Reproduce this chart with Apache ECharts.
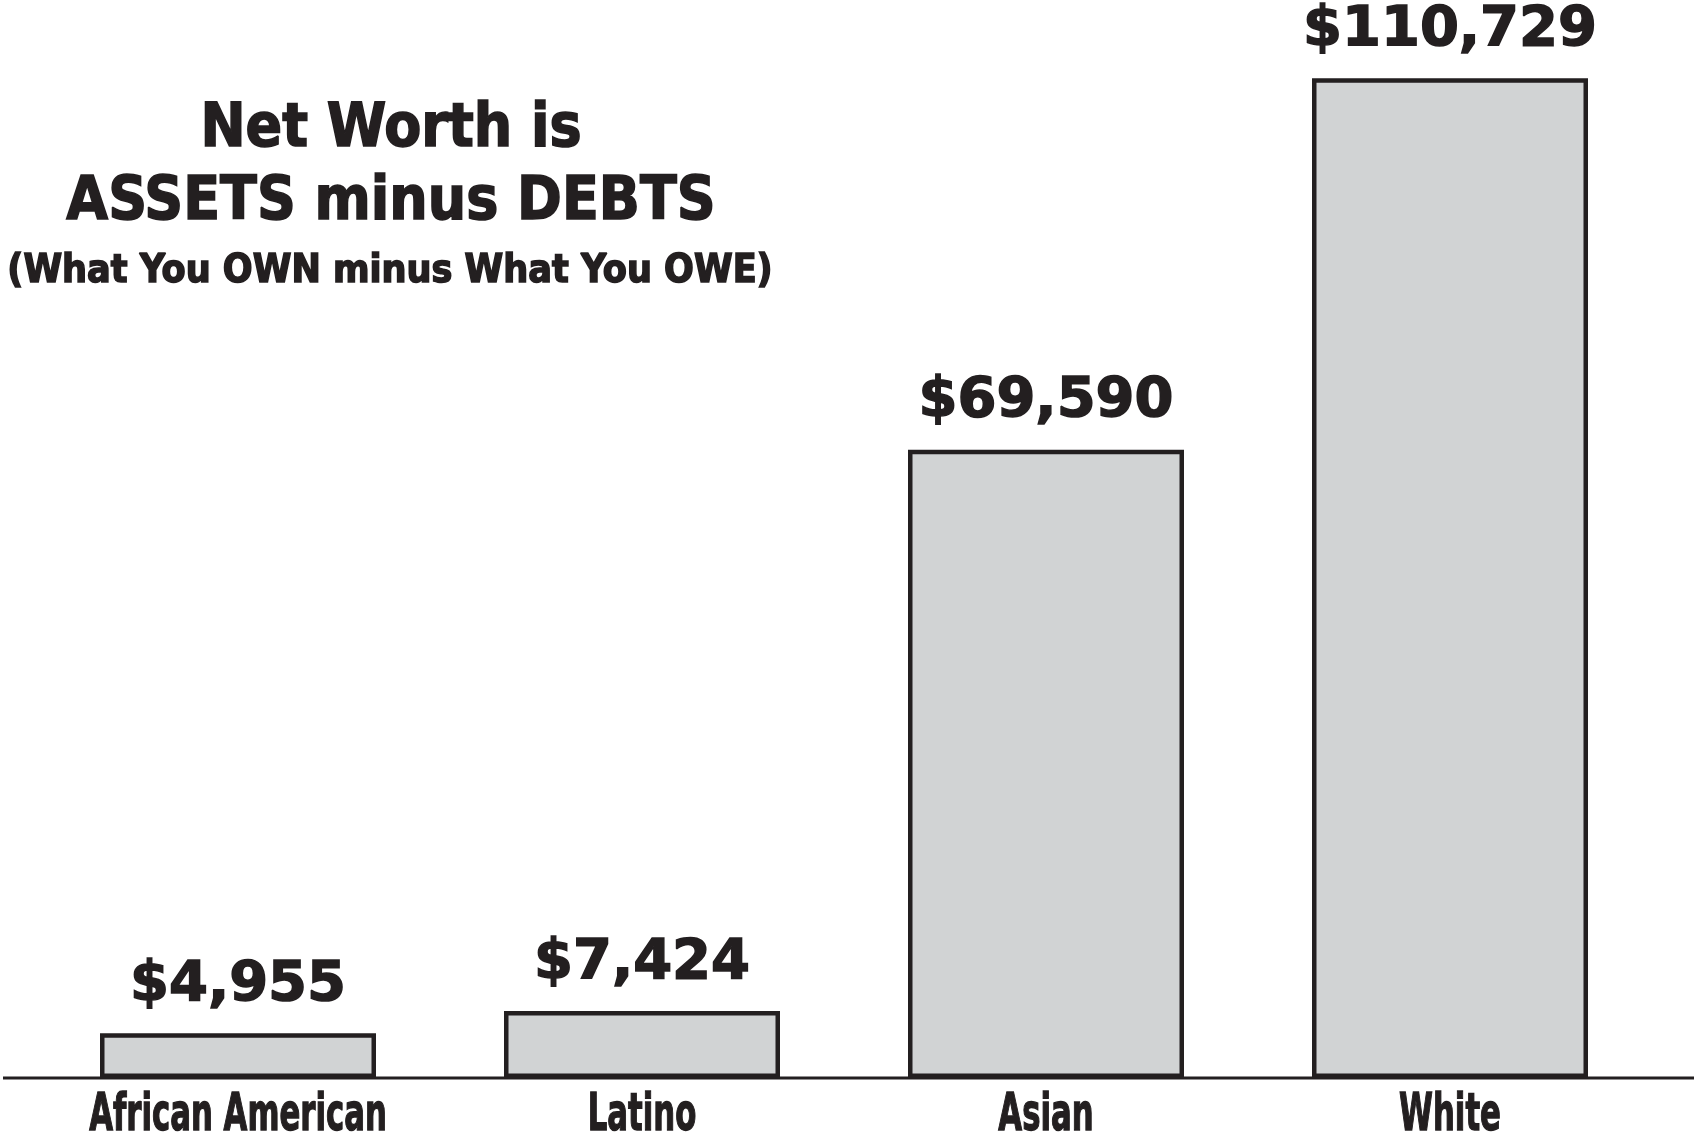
<!DOCTYPE html>
<html>
<head>
<meta charset="utf-8">
<title>Net Worth</title>
<script src="https://cdn.jsdelivr.net/npm/echarts@6/dist/echarts.min.js"></script>
<style>
  html, body { margin: 0; padding: 0; background: #ffffff; }
  #chart { width: 1694px; height: 1138px; }
</style>
</head>
<body>
<div id="chart"></div>
<script>
// Median household net worth by group
const categories = ['African American', 'Latino', 'Asian', 'White'];
const netWorth = [4955, 7424, 69590, 110729];

const INK = '#231f20';
const BAR_FILL = '#d1d3d4';

const chart = echarts.init(document.getElementById('chart'), null, { renderer: 'canvas' });

const fmt = v => '$' + v.toLocaleString('en-US');

const titleStyle = size => ({
  fontFamily: 'DejaVu Sans Condensed',
  fontWeight: 'bold',
  fontSize: size,
  color: INK,
  textBorderColor: INK,
  textBorderWidth: 1.5
});

const option = {
  backgroundColor: '#ffffff',
  animation: false,
  title: [
    { text: 'Net Worth is', left: 386, top: 95, textAlign: 'center', textStyle: titleStyle(60) },
    { text: 'ASSETS minus DEBTS', left: 386, top: 168, textAlign: 'center', textStyle: titleStyle(60) },
    { text: '(What You OWN minus What You OWE)', left: 385, top: 247, textAlign: 'center', textStyle: titleStyle(39) }
  ],
  grid: { left: 36, right: 42, top: -2, bottom: 60, containLabel: false },
  xAxis: {
    type: 'category',
    data: categories,
    axisLine: { show: false },
    axisTick: { show: false },
    axisLabel: { show: false }
  },
  yAxis: {
    type: 'value',
    min: 0,
    max: 119400,
    show: false,
    splitLine: { show: false }
  },
  series: [
    {
      type: 'bar',
      data: netWorth,
      barWidth: 276,
      itemStyle: { color: BAR_FILL, borderColor: INK, borderWidth: 4.5 },
      label: {
        show: true,
        position: 'top',
        distance: 20,
        formatter: p => fmt(p.value),
        fontFamily: 'DejaVu Sans',
        fontWeight: 'bold',
        fontSize: 56,
        color: INK,
        textBorderColor: INK,
        textBorderWidth: 1.5
      }
    },
    {
      // Condensed category names under each bar
      type: 'custom',
      data: categories.map(c => [c, 0]),
      silent: true,
      renderItem: (params, api) => {
        const pt = api.coord([api.value(0), 0]);
        return {
          type: 'text',
          x: pt[0],
          y: pt[1] + 39,
          scaleX: 0.67,
          style: {
            text: categories[params.dataIndex],
            x: 0,
            y: 0,
            align: 'center',
            verticalAlign: 'middle',
            font: 'bold 51px "DejaVu Sans Condensed"',
            fill: INK,
            stroke: INK,
            lineWidth: 1.3
          }
        };
      }
    }
  ]
};

chart.setOption(option);

// Baseline running the full width of the page at the value-axis zero
const baseY = chart.convertToPixel({ yAxisIndex: 0 }, 0);
chart.setOption({
  graphic: [{
    type: 'line',
    z: 0,
    shape: { x1: 3, y1: baseY, x2: 1694, y2: baseY },
    style: { stroke: INK, lineWidth: 3 }
  }]
});
</script>
</body>
</html>
